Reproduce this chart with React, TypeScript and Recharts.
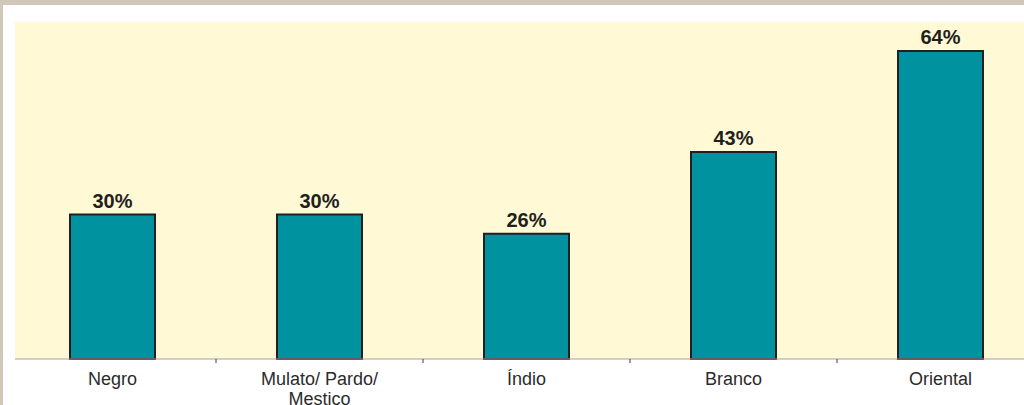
import React from 'react';
import { BarChart, Bar, XAxis, YAxis, CartesianGrid, LabelList, Text } from 'recharts';

const categories = ['Negro', 'Mulato/ Pardo/ Mestico', 'Índio', 'Branco', 'Oriental'];
const values = [30, 30, 26, 43, 64];

const data = categories.map((name, i) => ({ name, value: values[i] }));

const CHART_W = 1044;
const CHART_H = 405;
const MARGIN_LEFT = 15;
const PAD_LEFT = -6;
const STEP = (CHART_W - MARGIN_LEFT - PAD_LEFT) / categories.length;
const FONT = '"Liberation Sans", Arial, sans-serif';

const CategoryTick = (props: any) => {
  const { x, y, payload, index } = props;
  return (
    <g>
      {index < categories.length - 1 && (
        <line x1={x + STEP / 2} x2={x + STEP / 2} y1={y} y2={y + 4} stroke="#3a3a3a" strokeWidth={1} />
      )}
      <Text
        x={x}
        y={y + 13}
        width={130}
        textAnchor="middle"
        verticalAnchor="start"
        lineHeight={20}
        fontSize={18}
        fontFamily={FONT}
        fill="#2b2b2b"
      >
        {payload.value}
      </Text>
    </g>
  );
};

export default function App() {
  return (
    <div
      style={{
        position: 'fixed',
        left: 0,
        top: 0,
        width: 1024,
        height: 405,
        overflow: 'hidden',
        background: '#ffffff',
      }}
    >
      <BarChart
        width={CHART_W}
        height={CHART_H}
        data={data}
        margin={{ top: 22, right: 0, bottom: 0, left: MARGIN_LEFT }}
      >
        <CartesianGrid fill="#fffad5" stroke="none" horizontal={false} vertical={false} />
        <XAxis
          dataKey="name"
          height={46}
          padding={{ left: PAD_LEFT, right: 0 }}
          axisLine={{ stroke: '#a3a199', strokeWidth: 1 }}
          tickLine={false}
          tickSize={0}
          tickMargin={0}
          interval={0}
          tick={<CategoryTick />}
        />
        <YAxis hide domain={[0, 70]} />
        <Bar
          dataKey="value"
          fill="#00939f"
          stroke="#231f20"
          strokeWidth={2}
          barSize={85}
          isAnimationActive={false}
        >
          <LabelList
            dataKey="value"
            position="top"
            offset={7}
            formatter={(v: any) => `${v}%`}
            style={{ fontSize: 20, fontWeight: 'bold', fontFamily: FONT, fill: '#231f20' }}
          />
        </Bar>
      </BarChart>
      <div style={{ position: 'absolute', left: 0, top: 0, width: 1024, height: 5, background: '#cfc8b8' }} />
      <div style={{ position: 'absolute', left: 0, top: 0, width: 3, height: 405, background: '#cfc8b8' }} />
    </div>
  );
}
